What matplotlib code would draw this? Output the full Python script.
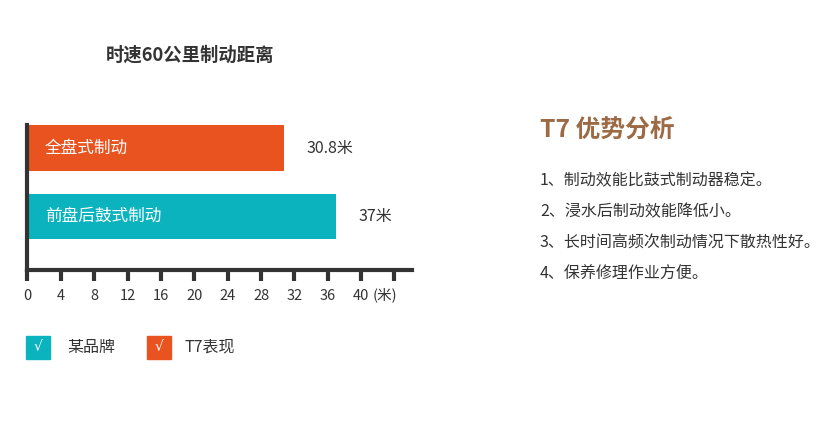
import numpy as np
import matplotlib
matplotlib.use("Agg")
import matplotlib.pyplot as plt
from matplotlib.patches import Rectangle

plt.rcParams['font.family'] = ['Noto Sans CJK SC', 'DejaVu Sans']

# data
categories = ["全盘式制动", "前盘后鼓式制动"]
distances = [30.8, 37]
value_labels = ["30.8米", "37米"]
bar_colors = ["#e8531f", "#0bb3bf"]
tick_values = list(range(0, 48, 4))
tick_labels = [str(v) for v in range(0, 44, 4)] + [""]
legend_names = ["某品牌", "T7表现"]
legend_colors = ["#0bb3bf", "#e8531f"]
panel_title = "T7 优势分析"
advantages = [
    "1、制动效能比鼓式制动器稳定。",
    "2、浸水后制动效能降低小。",
    "3、长时间高频次制动情况下散热性好。",
    "4、保养修理作业方便。",
]

W, H = 820, 430
fig = plt.figure(figsize=(8.2, 4.3), dpi=100)

# axes placed in pixel coordinates
left, right, top, bottom = 27.5, 412, 125, 270
ax = fig.add_axes([left / W, 1 - bottom / H, (right - left) / W, (bottom - top) / H])

ypos = [2, 1]
ax.barh(ypos, distances, height=0.664, color=bar_colors, zorder=2)
ax.set_xlim(0, 46.1)
ax.set_ylim(0.219, 2.336)

for y, name, d, lab in zip(ypos, categories, distances, value_labels):
    ax.text(2.1, y, name, color="white", fontsize=12, va="center", ha="left")
    ax.text(d + 2.7, y, lab, color="#333333", fontsize=11.5, va="center", ha="left")

for s in ["top", "right"]:
    ax.spines[s].set_visible(False)
for s in ["left", "bottom"]:
    ax.spines[s].set_linewidth(3)
    ax.spines[s].set_color("#333333")
ax.set_yticks([])
ax.set_xticks(tick_values)
ax.set_xticklabels(tick_labels)
ax.tick_params(axis="x", direction="out", length=8, width=3, color="#333333",
               labelsize=10.5, labelcolor="#333333", pad=6)
fig.text(385 / W, 1 - 295 / H, "(米)", fontsize=10.5, color="#333333",
         ha="center", va="center")

# title
fig.text(190 / W, 1 - 55 / H, "时速60公里制动距离", fontsize=13.2, fontweight="bold",
         color="#333333", ha="center", va="center")

# legend
lx = [26, 147]
tx = [67, 185]
for x0, t0, name, c in zip(lx, tx, legend_names, legend_colors):
    fig.patches.append(Rectangle((x0 / W, 1 - 359 / H), 24 / W, 23 / H,
                                 transform=fig.transFigure, color=c))
    fig.text((x0 + 12) / W, 1 - 347.5 / H, "√", color="white", fontsize=10,
             ha="center", va="center", family="DejaVu Sans")
    fig.text(t0 / W, 1 - 347.5 / H, name, color="#333333", fontsize=11.5,
             ha="left", va="center")

# right panel
fig.text(540 / W, 1 - 130 / H, panel_title, fontsize=17.8, fontweight="bold",
         color="#9c6b45", ha="left", va="center")
for i, line in enumerate(advantages):
    fig.text(540 / W, 1 - (181 + i * 31) / H, line, fontsize=11.5,
             color="#333333", ha="left", va="center")

fig.savefig("out.png", dpi=100, facecolor="white")
